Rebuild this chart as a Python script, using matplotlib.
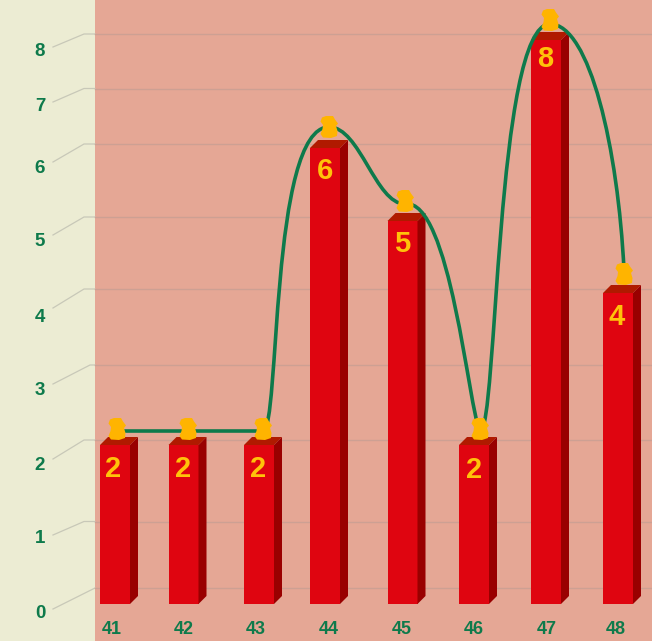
import numpy as np
import matplotlib
matplotlib.use("Agg")
import matplotlib.pyplot as plt
from matplotlib.path import Path
from matplotlib.patches import PathPatch, Polygon, Rectangle
from matplotlib.transforms import Affine2D

# data
categories = ["41", "42", "43", "44", "45", "46", "47", "48"]
values = [2, 2, 2, 6, 5, 2, 8, 4]
y_ticks = [0, 1, 2, 3, 4, 5, 6, 7, 8]

# layout, all in image pixels
W, H = 652, 641
bar_left = [100, 168.5, 244, 310, 387.5, 459, 531, 603]
bar_w = 30
depth = 8
wall_x = 95
scale_values = [-2, 0, 2, 4, 5, 6, 8, 9]
scale_px = [763, 604, 445, 293, 221, 148, 40, -14]
grid_px = [588, 521.5, 440, 365, 289, 217, 144, 88.5, 34]
grid_knee = [95, 84, 84, 90, 84, 84, 84, 84, 84]
leader_px = [609, 535, 459, 384, 308, 235, 162, 102, 47]
ytick_label_px = [613.5, 538.5, 465.5, 390.5, 317.5, 241.5, 168.5, 106.5, 51.5]
xtick_label_x = [112, 184, 256, 329, 402, 474, 547, 616]
xtick_label_y = 630
value_label_x = [113, 183, 258, 325, 402, 474, 545, 617]
value_label_drop = [24, 24, 24, 23, 23, 25, 19, 24]
pin_x = [117, 188, 263, 329, 405, 480, 550, 624]
pin_lift = [16, 16, 16, 21, 20, 16, 20, 19]
curve_lift = [14, 14, 14, 21, 17, 13, 16, 23]
# bezier handles per segment: out x, out y, in x, in y (fraction of the span)
handles = [
    (0.33, 0, 0.33, 0),
    (0.33, 0, 0.33, 0),
    (0.26, 0, 0.90, 0),
    (0.41, 0, 0.39, 0),
    (0.60, -0.03, 0.15, 0.10),
    (0.25, 0, 0.78, 0),
    (0.54, 0, 0.08, 0.49),
]

BG_LEFT = "#ECECD3"
BG_PLOT = "#E5A795"
GRID = "#CDA093"
LEADER = "#C8C8B8"
RED = "#DF0510"
TOP = "#B01A00"
SIDE = "#990000"
GREEN = "#0E7A4B"
GOLD = "#FFB400"
LABEL_GOLD = "#FFC20A"
FONT = "Liberation Sans"


def forward(v):
    v = np.asarray(v, dtype=float)
    return -np.interp(v.ravel(), scale_values, scale_px).reshape(v.shape)


def inverse(p):
    p = np.asarray(p, dtype=float)
    return np.interp(-p.ravel(), scale_px[::-1], scale_values[::-1]).reshape(p.shape)


fig = plt.figure(figsize=(W / 100, H / 100), dpi=100, facecolor=BG_LEFT)
ax = fig.add_axes([0, 0, 1, 1])
ax.set_yscale("function", functions=(forward, inverse))
ax.set_xlim(0, W)
ax.set_ylim(float(inverse(-H)), float(inverse(0)))
ax.axis("off")

# image pixels -> display
px = Affine2D().scale(1, -1).translate(0, H)


def top_of(v):
    return float(-forward(v))


# back wall
ax.add_patch(Rectangle((wall_x, 0), W - wall_x, H, transform=px, fc=BG_PLOT, ec="none", zorder=0))

for gy, knee, ly in zip(grid_px, grid_knee, leader_px):
    ax.plot([53, knee, wall_x], [ly, gy, gy], transform=px, color=LEADER, lw=0.9, zorder=1)
    ax.plot([wall_x, W], [gy, gy], transform=px, color=GRID, lw=1, zorder=1)

# bars
ax.bar(bar_left, values, width=bar_w, align="edge", color=RED, edgecolor="none", zorder=3)
for left, v in zip(bar_left, values):
    t = top_of(v)
    r = left + bar_w
    ax.add_patch(Polygon([(left, t), (left + depth, t - depth), (r + depth, t - depth), (r, t)],
                         transform=px, fc=TOP, ec="none", zorder=3))
    ax.add_patch(Polygon([(r, t), (r + depth, t - depth), (r + depth, 604 - depth), (r, 604)],
                         transform=px, fc=SIDE, ec="none", zorder=3))

# smooth line
pts = [(x, top_of(v) - lift) for x, v, lift in zip(pin_x, values, curve_lift)]
verts = [pts[0]]
codes = [Path.MOVETO]
for (x0, y0), (x1, y1), (a, e, b, f) in zip(pts[:-1], pts[1:], handles):
    dx, dy = x1 - x0, y1 - y0
    verts += [(x0 + a * dx, y0 + e * dy), (x1 - b * dx, y1 - f * dy), (x1, y1)]
    codes += [Path.CURVE4] * 3
ax.add_patch(PathPatch(Path(verts, codes), transform=px, fc="none", ec=GREEN, lw=2.6, zorder=4))

# pins
pin_shape = np.array([(-3, -11), (4, -11), (6, -7.5), (9, -3.5), (7, -1), (8.5, 4), (8, 9), (2, 11),
                      (-6, 10.5), (-8.5, 7), (-6.5, 2), (-6, -2), (-8.5, -5.5), (-7, -9.5)])
for x, v, lift in zip(pin_x, values, pin_lift):
    ax.add_patch(Polygon(pin_shape + (x, top_of(v) - lift), transform=px, fc=GOLD, ec="none", zorder=5))

# texts
for v, y in zip(y_ticks, ytick_label_px):
    ax.text(40, y, str(v), transform=px, ha="center", va="center", color=GREEN,
            fontsize=13.5, fontweight="bold", family=FONT, zorder=6)
for c, x in zip(categories, xtick_label_x):
    ax.text(x, xtick_label_y, c, transform=px, ha="center", va="center", color=GREEN,
            fontsize=13, fontweight="bold", family=FONT, zorder=6)
for v, x, drop in zip(values, value_label_x, value_label_drop):
    ax.text(x, top_of(v) + drop, str(v), transform=px, ha="center", va="center", color=LABEL_GOLD,
            fontsize=21, fontweight="bold", family=FONT, zorder=6)

fig.savefig("out.png", dpi=100, facecolor=fig.get_facecolor())
